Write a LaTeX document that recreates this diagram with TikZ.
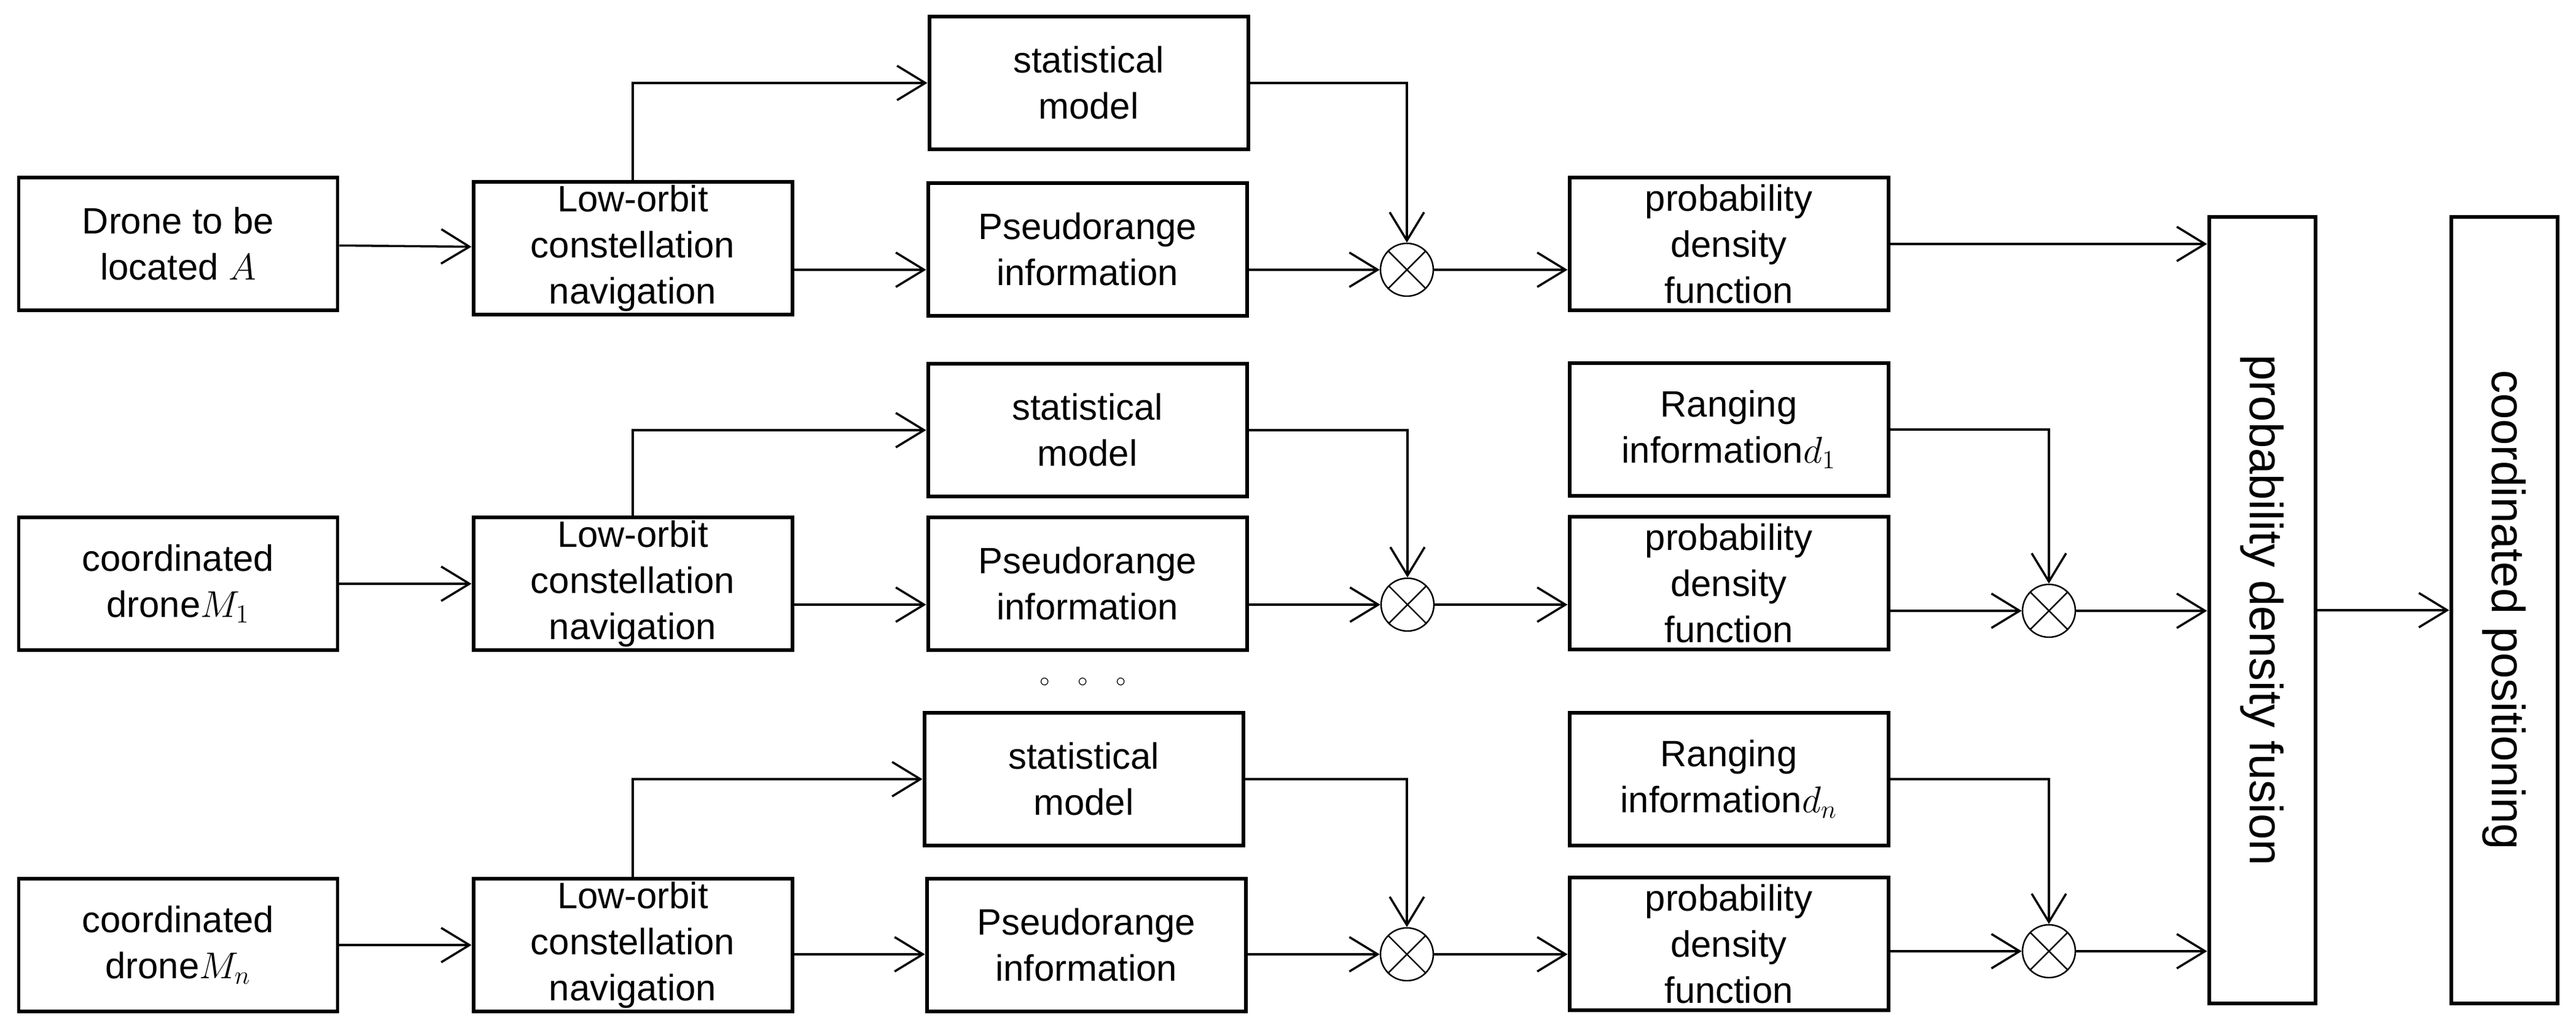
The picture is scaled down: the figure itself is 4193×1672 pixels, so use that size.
\documentclass[tikz,border=0pt]{standalone}
\usepackage{fontspec}
\setmainfont{Liberation Sans}
\usepackage{graphicx}
\usetikzlibrary{arrows.meta}

\begin{document}
\begin{tikzpicture}[x=0.1mm,y=-0.1mm,
  block/.style={draw,line width=1.7pt,minimum width=51.9mm,minimum height=21.6mm,
    inner sep=0.5mm,align=center,font=\fontsize{17}{21.3}\selectfont},
  tall/.style={draw,line width=1.7pt,minimum width=17.3mm,minimum height=128mm,
    inner sep=0pt,font=\fontsize{21.6}{26}\selectfont},
  mult/.style={draw,circle,line width=0.7pt,minimum size=8.6mm,inner sep=0pt},
  flow/.style={-{Straight Barb[length=4.6mm,width=5.6mm]},line width=1pt},
  elbow/.style={to path={-| (\tikztotarget)}},
  riser/.style={to path={|- (\tikztotarget)}}]

\useasboundingbox (0,0) rectangle (4193,1672);

% row of drone A
\node [block] (droneA)  at (290,397)  {Drone to be\\located $A$};
\node [block] (orbitA)  at (1030,404) {Low-orbit\\constellation\\navigation};
\node [block] (statA)   at (1772,135) {statistical\\model};
\node [block] (pseudoA) at (1770,406) {Pseudorange\\information};
\node [mult]  (mulA)    at (2290,439) {};
\node [block] (pdfA)    at (2814,397) {probability\\density\\function};

% row of drone M_1
\node [block] (droneB)  at (290,950)  {coordinated\\drone$M_1$};
\node [block] (orbitB)  at (1030,950) {Low-orbit\\constellation\\navigation};
\node [block] (statB)   at (1770,700) {statistical\\model};
\node [block] (pseudoB) at (1770,950) {Pseudorange\\information};
\node [mult]  (mulB)    at (2291,984) {};
\node [block] (rangeB)  at (2814,699) {Ranging\\information$d_1$};
\node [block] (pdfB)    at (2814,949) {probability\\density\\function};
\node [mult]  (fuseB)   at (3335,994) {};

\node (dots) at (1763,1110) {\fontsize{9}{10}\selectfont$\circ$\hspace{13pt}$\circ$\hspace{13pt}$\circ$};

% row of drone M_n
\node [block] (droneC)  at (290,1538)  {coordinated\\drone$M_n$};
\node [block] (orbitC)  at (1030,1538) {Low-orbit\\constellation\\navigation};
\node [block] (statC)   at (1764,1268) {statistical\\model};
\node [block] (pseudoC) at (1768,1538) {Pseudorange\\information};
\node [mult]  (mulC)    at (2290,1553) {};
\node [block] (rangeC)  at (2814,1268) {Ranging\\information$d_n$};
\node [block] (pdfC)    at (2814,1536) {probability\\density\\function};
\node [mult]  (fuseC)   at (3335,1548) {};

\node [tall] (fusion) at (3682,993) {\rotatebox{-90}{probability density fusion}};
\node [tall] (result) at (4076,993) {\rotatebox{-90}{coordinated positioning}};

\foreach \m in {mulA,mulB,mulC,fuseB,fuseC}
  \draw [line width=0.7pt] (\m.north west) -- (\m.south east) (\m.north east) -- (\m.south west);

\path [flow]

(droneA) edge (orbitA)
(orbitA.north) edge [riser] (statA)
(orbitA.east |- mulA) edge (pseudoA.west |- mulA)
(statA) edge [elbow] (mulA)
(pseudoA.east |- mulA) edge (mulA)
(mulA) edge (pdfA.west |- mulA)
(pdfA) edge (fusion.west |- pdfA)

(droneB) edge (orbitB)
(orbitB.north) edge [riser] (statB)
(orbitB.east |- mulB) edge (pseudoB.west |- mulB)
(statB) edge [elbow] (mulB)
(pseudoB.east |- mulB) edge (mulB)
(mulB) edge (pdfB.west |- mulB)
(rangeB) edge [elbow] (fuseB)
(pdfB.east |- fuseB) edge (fuseB)
(fuseB) edge (fusion.west |- fuseB)

(droneC) edge (orbitC)
(orbitC.north) edge [riser] (statC)
(orbitC.east |- mulC) edge (pseudoC.west |- mulC)
(statC) edge [elbow] (mulC)
(pseudoC.east |- mulC) edge (mulC)
(mulC) edge (pdfC.west |- mulC)
(rangeC) edge [elbow] (fuseC)
(pdfC.east |- fuseC) edge (fuseC)
(fuseC) edge (fusion.west |- fuseC)

(fusion) edge (result)

;
\end{tikzpicture}
\end{document}
